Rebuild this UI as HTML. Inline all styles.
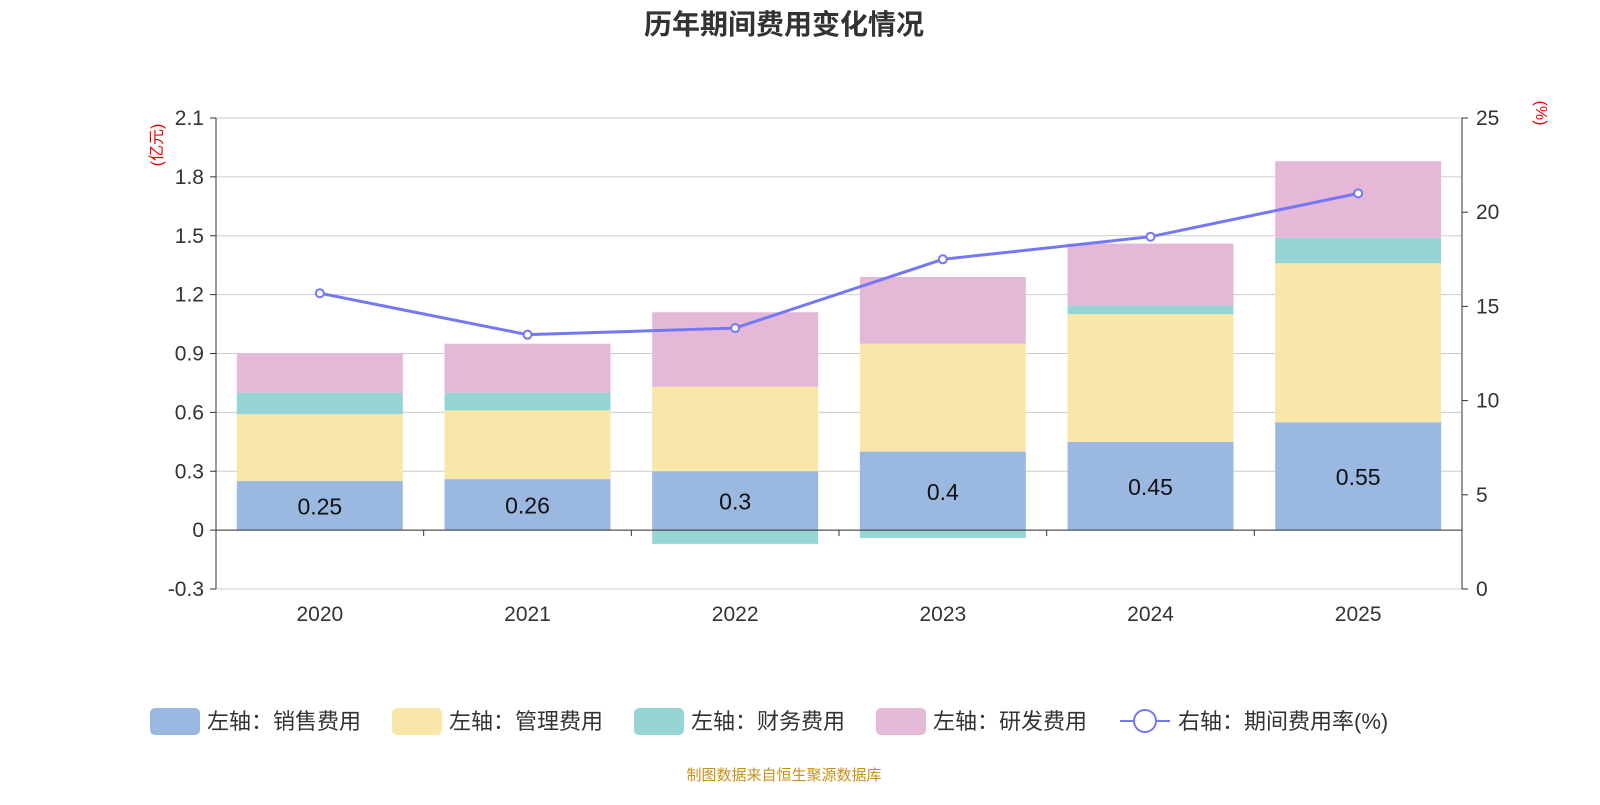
<!DOCTYPE html>
<html><head><meta charset="utf-8">
<style>
body{margin:0;background:#fff;width:1600px;height:800px;overflow:hidden;font-family:"Liberation Sans","Noto Sans CJK SC",sans-serif;}
</style></head>
<body>
<svg id="chart" width="1600" height="800" xmlns="http://www.w3.org/2000/svg" font-family="Liberation Sans, Noto Sans CJK SC, sans-serif">
<text x="784" y="34" text-anchor="middle" font-size="28" font-weight="bold" fill="#333">历年期间费用变化情况</text>
<text transform="translate(162,145) rotate(-90)" text-anchor="middle" font-size="16" fill="#e00">(亿元)</text>
<text transform="translate(1536,113) rotate(90)" text-anchor="middle" font-size="16" fill="#e00">(%)</text>
<g id="grid"></g><g id="bars"></g><g id="axes"></g><g id="line"></g>
<g font-size="22" fill="#333">
<rect x="150" y="708" width="50" height="27" rx="5" fill="#9bb8e1"/><text x="207" y="729">左轴：销售费用</text>
<rect x="392" y="708" width="50" height="27" rx="5" fill="#f8e7a8"/><text x="449" y="729">左轴：管理费用</text>
<rect x="634" y="708" width="50" height="27" rx="5" fill="#97d5d5"/><text x="691" y="729">左轴：财务费用</text>
<rect x="876" y="708" width="50" height="27" rx="5" fill="#e6b8d8"/><text x="933" y="729">左轴：研发费用</text>
<line x1="1120" y1="721" x2="1170" y2="721" stroke="#7478f4" stroke-width="2"/><circle cx="1145" cy="721" r="11" fill="#fff" stroke="#7478f4" stroke-width="2"/><text x="1178" y="729">右轴：期间费用率(%)</text>
</g>
<text x="784" y="780" text-anchor="middle" font-size="15" fill="#c8901a">制图数据来自恒生聚源数据库</text>
</svg>
<script>
const years=["2020","2021","2022","2023","2024","2025"];
const sales=[0.25,0.26,0.3,0.4,0.45,0.55];
const mgmt=[0.34,0.35,0.43,0.55,0.65,0.81];
const finance=[0.11,0.09,-0.07,-0.04,0.045,0.13];
const rd=[0.20,0.25,0.38,0.34,0.315,0.39];
const rate=[15.7,13.5,13.85,17.5,18.7,21.0];
const leftTicks=[-0.3,0,0.3,0.6,0.9,1.2,1.5,1.8,2.1];
const rightTicks=[0,5,10,15,20,25];
const NS="http://www.w3.org/2000/svg";
const X0=216,X1=1462,TOP=118,BOT=589;
const yL=v=>BOT-(v+0.3)/2.4*(BOT-TOP);
const yR=v=>BOT-v/25*(BOT-TOP);
const bw=(X1-X0)/years.length;
const xc=i=>X0+bw*(i+0.5);
function mk(p,t,a){const e=document.createElementNS(NS,t);for(const k in a)e.setAttribute(k,a[k]);document.getElementById(p).appendChild(e);return e;}
leftTicks.forEach(v=>{
 const l=mk("grid","line",{x1:X0,x2:X1,y1:yL(v),y2:yL(v),stroke:"#ccc","stroke-width":1});
 
 
 const t=mk("axes","text",{x:X0-12,y:yL(v)+7,"text-anchor":"end","font-size":21,fill:"#333"});t.textContent=String(v);
 
 
 mk("axes","line",{x1:X0-6,x2:X0,y1:yL(v),y2:yL(v),stroke:"#333"});
});
rightTicks.forEach(v=>{
 const t=mk("axes","text",{x:X1+14,y:yR(v)+7,"font-size":21,fill:"#333"});t.textContent=String(v);
 
 
 mk("axes","line",{x1:X1,x2:X1+6,y1:yR(v),y2:yR(v),stroke:"#333"});
});
mk("axes","line",{x1:X0,x2:X0,y1:TOP,y2:BOT,stroke:"#333"});
mk("axes","line",{x1:X1,x2:X1,y1:TOP,y2:BOT,stroke:"#333"});
mk("axes","line",{x1:X0,x2:X1,y1:yL(0),y2:yL(0),stroke:"#333"});
years.forEach((y,i)=>{
 mk("axes","line",{x1:X0+bw*(i+1),x2:X0+bw*(i+1),y1:yL(0),y2:yL(0)+6,stroke:"#333"});
 const t=mk("axes","text",{x:xc(i),y:621,"text-anchor":"middle","font-size":21,fill:"#333"});t.textContent=y;
 
 
 const w=166,x=xc(i)-w/2;
 let pos=0,neg=0;
 [[sales,"#9bb8e1","sales"],[mgmt,"#f8e7a8","mgmt"],[finance,"#97d5d5","finance"],[rd,"#e6b8d8","rd"]].forEach(([arr,c,n])=>{
  const v=arr[i];let a,b;
  if(v>=0){a=pos;b=pos+v;pos=b;}else{a=neg;b=neg+v;neg=b;}
  const r=mk("bars","rect",{x:x,width:w,y:Math.min(yL(a),yL(b)),height:Math.abs(yL(a)-yL(b)),fill:c});
  
  
 });
 const lb=mk("bars","text",{x:xc(i),y:(yL(0)+yL(sales[i]))/2+9,"text-anchor":"middle","font-size":23,fill:"#111"});lb.textContent=String(sales[i]);
 
 
});
const pl=mk("line","polyline",{points:rate.map((v,i)=>xc(i)+","+yR(v)).join(" "),fill:"none",stroke:"#7478f4","stroke-width":3});


rate.forEach((v,i)=>{
 const c=mk("line","circle",{cx:xc(i),cy:yR(v),r:4,fill:"#fff",stroke:"#7478f4","stroke-width":2});
 
 
});
</script>
</body></html>
